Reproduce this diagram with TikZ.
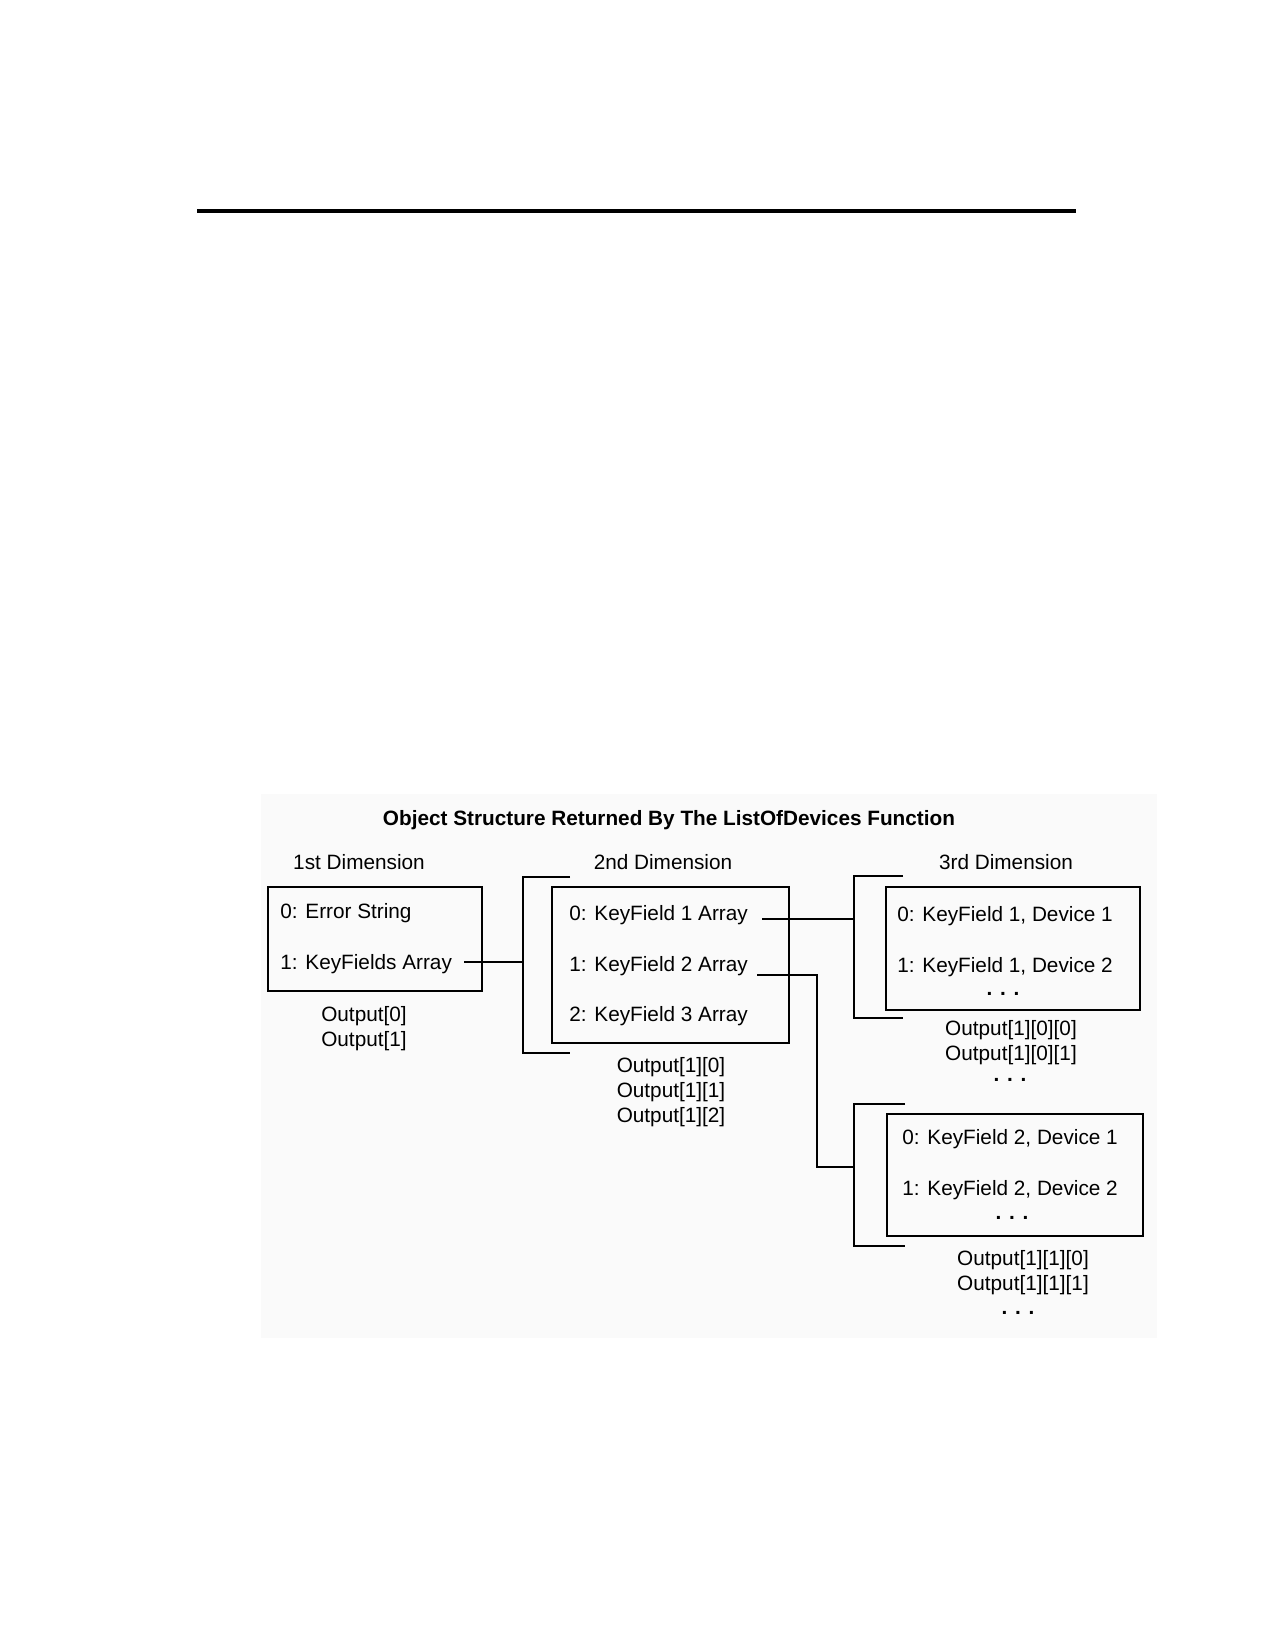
\documentclass[tikz,border=0pt]{standalone}
\usepackage{fontspec}
\setmainfont{Liberation Sans}
\usetikzlibrary{fit}
\begin{document}
\begin{tikzpicture}[x=0.48bp,y=-0.48bp,
  txt/.style={inner sep=0pt,font=\fontsize{10}{12}\selectfont},
  lbl/.style={txt,anchor=west},
  dots/.style={txt,font=\fontsize{10}{12}\selectfont\bfseries},
  box/.style={draw,line width=1bp,inner sep=0pt},
  thin/.style={line width=0.55bp},
  thick/.style={line width=1bp}]
\useasboundingbox (0,0) rectangle (1275,1650);
\fill[gray!4] (261,794) rectangle (1157,1338);
\draw[line width=1.8bp] (197,211) -- (1076,211);

\node[txt,font=\fontsize{10}{12}\selectfont\bfseries] (title) at (669,820) {Object Structure Returned By The ListOfDevices Function};
\node[txt] (d1) at (359,862) {1st Dimension};
\node[txt] (d2) at (663,862) {2nd Dimension};
\node[txt] (d3) at (1006,862) {3rd Dimension};

% box 1
\node[box,fit={(268,887) (482,991)}] (b1) {};
\node[lbl] (e0) at (280,913) {0: Error String};
\node[lbl] (e1) at (280,964) {1: KeyFields Array};
\node[txt,align=center] (o1) at (364,1029) {Output[0]\\Output[1]};

% bracket 2
\coordinate (br2) at (523,962);
\draw[thin] (570,877) -- (523,877) -- (523,1053) -- (570,1053);
\node[box,fit={(552,887) (789,1043)}] (b2) {};
\node[lbl] (k0) at (569,915) {0: KeyField 1 Array};
\node[lbl] (k1) at (569,966) {1: KeyField 2 Array};
\node[lbl] (k2) at (569,1016) {2: KeyField 3 Array};
\node[txt,align=center] (o2) at (671,1092) {Output[1][0]\\Output[1][1]\\Output[1][2]};

% bracket 3a
\coordinate (br3a) at (854,919);
\draw[thin] (903,876) -- (854,876) -- (854,1018) -- (903,1018);
\node[box,fit={(886,887) (1140,1010)}] (b3a) {};
\node[lbl] (a0) at (897,916) {0: KeyField 1, Device 1};
\node[lbl] (a1) at (897,967) {1: KeyField 1, Device 2};
\node[dots] (adots) at (1003,994) {. . .};
\node[txt,align=center] (o3a) at (1011,1043) {Output[1][0][0]\\Output[1][0][1]};
\node[dots] (o3adots) at (1010,1080) {. . .};

% bracket 3b
\coordinate (br3b) at (854,1167);
\draw[thin] (905,1104) -- (854,1104) -- (854,1246) -- (905,1246);
\node[box,fit={(887,1114) (1143,1236)}] (b3b) {};
\node[lbl] (c0) at (902,1139) {0: KeyField 2, Device 1};
\node[lbl] (c1) at (902,1190) {1: KeyField 2, Device 2};
\node[dots] (cdots) at (1012,1218) {. . .};
\node[txt,align=center] (o3b) at (1023,1273) {Output[1][1][0]\\Output[1][1][1]};
\node[dots] (o3bdots) at (1018,1313) {. . .};

% connectors
\coordinate (s1) at (464,962);
\coordinate (s2) at (762,919);
\coordinate (s3) at (757,975);
\draw[thick] (s1) -- (br2);
\draw[thin] (s2) -- (br3a);
\draw[thick] (s3) -| (817,1167) -- (br3b);
\end{tikzpicture}
\end{document}
